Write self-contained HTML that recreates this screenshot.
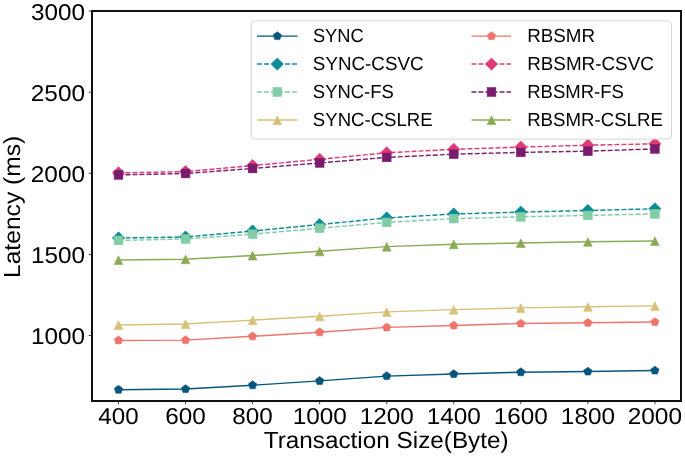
<!DOCTYPE html>
<html><head><meta charset="utf-8"><style>
html,body{margin:0;padding:0;background:#fff;width:685px;height:457px;overflow:hidden}
svg{display:block;will-change:transform}
text{font-family:"Liberation Sans",sans-serif;fill:#000;text-rendering:geometricPrecision}
</style></head><body>
<svg width="685" height="457" viewBox="0 0 685 457">
<rect width="685" height="457" fill="#fff"/>
<polyline points="118.50,389.70 185.55,389.00 252.60,385.20 319.65,380.90 386.70,376.10 453.75,374.00 520.80,372.20 587.85,371.50 654.90,370.50" fill="none" stroke="#05557D" stroke-width="1.45" stroke-linecap="butt" stroke-linejoin="round"/>
<polygon points="118.50,385.35 122.64,388.36 121.06,393.22 115.94,393.22 114.36,388.36" fill="#05557D" stroke="#05557D" stroke-width="0.6" stroke-linejoin="miter"/>
<polygon points="185.55,384.65 189.69,387.66 188.11,392.52 182.99,392.52 181.41,387.66" fill="#05557D" stroke="#05557D" stroke-width="0.6" stroke-linejoin="miter"/>
<polygon points="252.60,380.85 256.74,383.86 255.16,388.72 250.04,388.72 248.46,383.86" fill="#05557D" stroke="#05557D" stroke-width="0.6" stroke-linejoin="miter"/>
<polygon points="319.65,376.55 323.79,379.56 322.21,384.42 317.09,384.42 315.51,379.56" fill="#05557D" stroke="#05557D" stroke-width="0.6" stroke-linejoin="miter"/>
<polygon points="386.70,371.75 390.84,374.76 389.26,379.62 384.14,379.62 382.56,374.76" fill="#05557D" stroke="#05557D" stroke-width="0.6" stroke-linejoin="miter"/>
<polygon points="453.75,369.65 457.89,372.66 456.31,377.52 451.19,377.52 449.61,372.66" fill="#05557D" stroke="#05557D" stroke-width="0.6" stroke-linejoin="miter"/>
<polygon points="520.80,367.85 524.94,370.86 523.36,375.72 518.24,375.72 516.66,370.86" fill="#05557D" stroke="#05557D" stroke-width="0.6" stroke-linejoin="miter"/>
<polygon points="587.85,367.15 591.99,370.16 590.41,375.02 585.29,375.02 583.71,370.16" fill="#05557D" stroke="#05557D" stroke-width="0.6" stroke-linejoin="miter"/>
<polygon points="654.90,366.15 659.04,369.16 657.46,374.02 652.34,374.02 650.76,369.16" fill="#05557D" stroke="#05557D" stroke-width="0.6" stroke-linejoin="miter"/>
<polyline points="118.50,238.00 185.55,237.00 252.60,231.00 319.65,224.60 386.70,217.90 453.75,214.00 520.80,212.10 587.85,210.50 654.90,208.80" fill="none" stroke="#0A8C96" stroke-width="1.45" stroke-dasharray="4.9,2.1" stroke-linecap="butt" stroke-linejoin="round"/>
<polygon points="118.50,231.85 124.65,238.00 118.50,244.15 112.35,238.00" fill="#0A8C96" stroke="#0A8C96" stroke-width="0.6" stroke-linejoin="miter"/>
<polygon points="185.55,230.85 191.70,237.00 185.55,243.15 179.40,237.00" fill="#0A8C96" stroke="#0A8C96" stroke-width="0.6" stroke-linejoin="miter"/>
<polygon points="252.60,224.85 258.75,231.00 252.60,237.15 246.45,231.00" fill="#0A8C96" stroke="#0A8C96" stroke-width="0.6" stroke-linejoin="miter"/>
<polygon points="319.65,218.45 325.80,224.60 319.65,230.75 313.50,224.60" fill="#0A8C96" stroke="#0A8C96" stroke-width="0.6" stroke-linejoin="miter"/>
<polygon points="386.70,211.75 392.85,217.90 386.70,224.05 380.55,217.90" fill="#0A8C96" stroke="#0A8C96" stroke-width="0.6" stroke-linejoin="miter"/>
<polygon points="453.75,207.85 459.90,214.00 453.75,220.15 447.60,214.00" fill="#0A8C96" stroke="#0A8C96" stroke-width="0.6" stroke-linejoin="miter"/>
<polygon points="520.80,205.95 526.95,212.10 520.80,218.25 514.65,212.10" fill="#0A8C96" stroke="#0A8C96" stroke-width="0.6" stroke-linejoin="miter"/>
<polygon points="587.85,204.35 594.00,210.50 587.85,216.65 581.70,210.50" fill="#0A8C96" stroke="#0A8C96" stroke-width="0.6" stroke-linejoin="miter"/>
<polygon points="654.90,202.65 661.05,208.80 654.90,214.95 648.75,208.80" fill="#0A8C96" stroke="#0A8C96" stroke-width="0.6" stroke-linejoin="miter"/>
<polyline points="118.50,240.40 185.55,239.00 252.60,234.20 319.65,228.20 386.70,222.40 453.75,218.60 520.80,216.80 587.85,215.40 654.90,213.90" fill="none" stroke="#82CDA5" stroke-width="1.45" stroke-dasharray="4.9,2.1" stroke-linecap="butt" stroke-linejoin="round"/>
<rect x="114.15" y="236.05" width="8.70" height="8.70" fill="#82CDA5" stroke="#82CDA5" stroke-width="0.6" stroke-linejoin="miter"/>
<rect x="181.20" y="234.65" width="8.70" height="8.70" fill="#82CDA5" stroke="#82CDA5" stroke-width="0.6" stroke-linejoin="miter"/>
<rect x="248.25" y="229.85" width="8.70" height="8.70" fill="#82CDA5" stroke="#82CDA5" stroke-width="0.6" stroke-linejoin="miter"/>
<rect x="315.30" y="223.85" width="8.70" height="8.70" fill="#82CDA5" stroke="#82CDA5" stroke-width="0.6" stroke-linejoin="miter"/>
<rect x="382.35" y="218.05" width="8.70" height="8.70" fill="#82CDA5" stroke="#82CDA5" stroke-width="0.6" stroke-linejoin="miter"/>
<rect x="449.40" y="214.25" width="8.70" height="8.70" fill="#82CDA5" stroke="#82CDA5" stroke-width="0.6" stroke-linejoin="miter"/>
<rect x="516.45" y="212.45" width="8.70" height="8.70" fill="#82CDA5" stroke="#82CDA5" stroke-width="0.6" stroke-linejoin="miter"/>
<rect x="583.50" y="211.05" width="8.70" height="8.70" fill="#82CDA5" stroke="#82CDA5" stroke-width="0.6" stroke-linejoin="miter"/>
<rect x="650.55" y="209.55" width="8.70" height="8.70" fill="#82CDA5" stroke="#82CDA5" stroke-width="0.6" stroke-linejoin="miter"/>
<polyline points="118.50,325.00 185.55,324.00 252.60,320.10 319.65,316.30 386.70,311.90 453.75,309.60 520.80,307.90 587.85,306.80 654.90,305.90" fill="none" stroke="#D7C078" stroke-width="1.45" stroke-linecap="butt" stroke-linejoin="round"/>
<polygon points="118.50,320.85 122.85,329.55 114.15,329.55" fill="#D7C078" stroke="#D7C078" stroke-width="0.6" stroke-linejoin="miter"/>
<polygon points="185.55,319.85 189.90,328.55 181.20,328.55" fill="#D7C078" stroke="#D7C078" stroke-width="0.6" stroke-linejoin="miter"/>
<polygon points="252.60,315.95 256.95,324.65 248.25,324.65" fill="#D7C078" stroke="#D7C078" stroke-width="0.6" stroke-linejoin="miter"/>
<polygon points="319.65,312.15 324.00,320.85 315.30,320.85" fill="#D7C078" stroke="#D7C078" stroke-width="0.6" stroke-linejoin="miter"/>
<polygon points="386.70,307.75 391.05,316.45 382.35,316.45" fill="#D7C078" stroke="#D7C078" stroke-width="0.6" stroke-linejoin="miter"/>
<polygon points="453.75,305.45 458.10,314.15 449.40,314.15" fill="#D7C078" stroke="#D7C078" stroke-width="0.6" stroke-linejoin="miter"/>
<polygon points="520.80,303.75 525.15,312.45 516.45,312.45" fill="#D7C078" stroke="#D7C078" stroke-width="0.6" stroke-linejoin="miter"/>
<polygon points="587.85,302.65 592.20,311.35 583.50,311.35" fill="#D7C078" stroke="#D7C078" stroke-width="0.6" stroke-linejoin="miter"/>
<polygon points="654.90,301.75 659.25,310.45 650.55,310.45" fill="#D7C078" stroke="#D7C078" stroke-width="0.6" stroke-linejoin="miter"/>
<polyline points="118.50,340.40 185.55,340.10 252.60,336.30 319.65,332.20 386.70,327.40 453.75,325.50 520.80,323.50 587.85,322.80 654.90,322.00" fill="none" stroke="#EE746C" stroke-width="1.45" stroke-linecap="butt" stroke-linejoin="round"/>
<polygon points="118.50,336.05 122.64,339.06 121.06,343.92 115.94,343.92 114.36,339.06" fill="#EE746C" stroke="#EE746C" stroke-width="0.6" stroke-linejoin="miter"/>
<polygon points="185.55,335.75 189.69,338.76 188.11,343.62 182.99,343.62 181.41,338.76" fill="#EE746C" stroke="#EE746C" stroke-width="0.6" stroke-linejoin="miter"/>
<polygon points="252.60,331.95 256.74,334.96 255.16,339.82 250.04,339.82 248.46,334.96" fill="#EE746C" stroke="#EE746C" stroke-width="0.6" stroke-linejoin="miter"/>
<polygon points="319.65,327.85 323.79,330.86 322.21,335.72 317.09,335.72 315.51,330.86" fill="#EE746C" stroke="#EE746C" stroke-width="0.6" stroke-linejoin="miter"/>
<polygon points="386.70,323.05 390.84,326.06 389.26,330.92 384.14,330.92 382.56,326.06" fill="#EE746C" stroke="#EE746C" stroke-width="0.6" stroke-linejoin="miter"/>
<polygon points="453.75,321.15 457.89,324.16 456.31,329.02 451.19,329.02 449.61,324.16" fill="#EE746C" stroke="#EE746C" stroke-width="0.6" stroke-linejoin="miter"/>
<polygon points="520.80,319.15 524.94,322.16 523.36,327.02 518.24,327.02 516.66,322.16" fill="#EE746C" stroke="#EE746C" stroke-width="0.6" stroke-linejoin="miter"/>
<polygon points="587.85,318.45 591.99,321.46 590.41,326.32 585.29,326.32 583.71,321.46" fill="#EE746C" stroke="#EE746C" stroke-width="0.6" stroke-linejoin="miter"/>
<polygon points="654.90,317.65 659.04,320.66 657.46,325.52 652.34,325.52 650.76,320.66" fill="#EE746C" stroke="#EE746C" stroke-width="0.6" stroke-linejoin="miter"/>
<polyline points="118.50,172.90 185.55,171.60 252.60,165.60 319.65,159.30 386.70,152.80 453.75,149.30 520.80,147.10 587.85,145.20 654.90,143.80" fill="none" stroke="#DE3A76" stroke-width="1.45" stroke-dasharray="4.9,2.1" stroke-linecap="butt" stroke-linejoin="round"/>
<polygon points="118.50,166.75 124.65,172.90 118.50,179.05 112.35,172.90" fill="#DE3A76" stroke="#DE3A76" stroke-width="0.6" stroke-linejoin="miter"/>
<polygon points="185.55,165.45 191.70,171.60 185.55,177.75 179.40,171.60" fill="#DE3A76" stroke="#DE3A76" stroke-width="0.6" stroke-linejoin="miter"/>
<polygon points="252.60,159.45 258.75,165.60 252.60,171.75 246.45,165.60" fill="#DE3A76" stroke="#DE3A76" stroke-width="0.6" stroke-linejoin="miter"/>
<polygon points="319.65,153.15 325.80,159.30 319.65,165.45 313.50,159.30" fill="#DE3A76" stroke="#DE3A76" stroke-width="0.6" stroke-linejoin="miter"/>
<polygon points="386.70,146.65 392.85,152.80 386.70,158.95 380.55,152.80" fill="#DE3A76" stroke="#DE3A76" stroke-width="0.6" stroke-linejoin="miter"/>
<polygon points="453.75,143.15 459.90,149.30 453.75,155.45 447.60,149.30" fill="#DE3A76" stroke="#DE3A76" stroke-width="0.6" stroke-linejoin="miter"/>
<polygon points="520.80,140.95 526.95,147.10 520.80,153.25 514.65,147.10" fill="#DE3A76" stroke="#DE3A76" stroke-width="0.6" stroke-linejoin="miter"/>
<polygon points="587.85,139.05 594.00,145.20 587.85,151.35 581.70,145.20" fill="#DE3A76" stroke="#DE3A76" stroke-width="0.6" stroke-linejoin="miter"/>
<polygon points="654.90,137.65 661.05,143.80 654.90,149.95 648.75,143.80" fill="#DE3A76" stroke="#DE3A76" stroke-width="0.6" stroke-linejoin="miter"/>
<polyline points="118.50,174.90 185.55,173.50 252.60,168.50 319.65,162.90 386.70,157.40 453.75,154.20 520.80,152.40 587.85,151.20 654.90,148.90" fill="none" stroke="#7A1C6E" stroke-width="1.45" stroke-dasharray="4.9,2.1" stroke-linecap="butt" stroke-linejoin="round"/>
<rect x="114.15" y="170.55" width="8.70" height="8.70" fill="#7A1C6E" stroke="#7A1C6E" stroke-width="0.6" stroke-linejoin="miter"/>
<rect x="181.20" y="169.15" width="8.70" height="8.70" fill="#7A1C6E" stroke="#7A1C6E" stroke-width="0.6" stroke-linejoin="miter"/>
<rect x="248.25" y="164.15" width="8.70" height="8.70" fill="#7A1C6E" stroke="#7A1C6E" stroke-width="0.6" stroke-linejoin="miter"/>
<rect x="315.30" y="158.55" width="8.70" height="8.70" fill="#7A1C6E" stroke="#7A1C6E" stroke-width="0.6" stroke-linejoin="miter"/>
<rect x="382.35" y="153.05" width="8.70" height="8.70" fill="#7A1C6E" stroke="#7A1C6E" stroke-width="0.6" stroke-linejoin="miter"/>
<rect x="449.40" y="149.85" width="8.70" height="8.70" fill="#7A1C6E" stroke="#7A1C6E" stroke-width="0.6" stroke-linejoin="miter"/>
<rect x="516.45" y="148.05" width="8.70" height="8.70" fill="#7A1C6E" stroke="#7A1C6E" stroke-width="0.6" stroke-linejoin="miter"/>
<rect x="583.50" y="146.85" width="8.70" height="8.70" fill="#7A1C6E" stroke="#7A1C6E" stroke-width="0.6" stroke-linejoin="miter"/>
<rect x="650.55" y="144.55" width="8.70" height="8.70" fill="#7A1C6E" stroke="#7A1C6E" stroke-width="0.6" stroke-linejoin="miter"/>
<polyline points="118.50,260.00 185.55,259.20 252.60,255.50 319.65,251.30 386.70,246.60 453.75,244.20 520.80,243.00 587.85,241.70 654.90,241.00" fill="none" stroke="#8AAA55" stroke-width="1.45" stroke-linecap="butt" stroke-linejoin="round"/>
<polygon points="118.50,255.85 122.85,264.55 114.15,264.55" fill="#8AAA55" stroke="#8AAA55" stroke-width="0.6" stroke-linejoin="miter"/>
<polygon points="185.55,255.05 189.90,263.75 181.20,263.75" fill="#8AAA55" stroke="#8AAA55" stroke-width="0.6" stroke-linejoin="miter"/>
<polygon points="252.60,251.35 256.95,260.05 248.25,260.05" fill="#8AAA55" stroke="#8AAA55" stroke-width="0.6" stroke-linejoin="miter"/>
<polygon points="319.65,247.15 324.00,255.85 315.30,255.85" fill="#8AAA55" stroke="#8AAA55" stroke-width="0.6" stroke-linejoin="miter"/>
<polygon points="386.70,242.45 391.05,251.15 382.35,251.15" fill="#8AAA55" stroke="#8AAA55" stroke-width="0.6" stroke-linejoin="miter"/>
<polygon points="453.75,240.05 458.10,248.75 449.40,248.75" fill="#8AAA55" stroke="#8AAA55" stroke-width="0.6" stroke-linejoin="miter"/>
<polygon points="520.80,238.85 525.15,247.55 516.45,247.55" fill="#8AAA55" stroke="#8AAA55" stroke-width="0.6" stroke-linejoin="miter"/>
<polygon points="587.85,237.55 592.20,246.25 583.50,246.25" fill="#8AAA55" stroke="#8AAA55" stroke-width="0.6" stroke-linejoin="miter"/>
<polygon points="654.90,236.85 659.25,245.55 650.55,245.55" fill="#8AAA55" stroke="#8AAA55" stroke-width="0.6" stroke-linejoin="miter"/>
<line x1="118.50" y1="401" x2="118.50" y2="404.3" stroke="#000" stroke-width="0.75"/>
<line x1="185.55" y1="401" x2="185.55" y2="404.3" stroke="#000" stroke-width="0.75"/>
<line x1="252.60" y1="401" x2="252.60" y2="404.3" stroke="#000" stroke-width="0.75"/>
<line x1="319.65" y1="401" x2="319.65" y2="404.3" stroke="#000" stroke-width="0.75"/>
<line x1="386.70" y1="401" x2="386.70" y2="404.3" stroke="#000" stroke-width="0.75"/>
<line x1="453.75" y1="401" x2="453.75" y2="404.3" stroke="#000" stroke-width="0.75"/>
<line x1="520.80" y1="401" x2="520.80" y2="404.3" stroke="#000" stroke-width="0.75"/>
<line x1="587.85" y1="401" x2="587.85" y2="404.3" stroke="#000" stroke-width="0.75"/>
<line x1="654.90" y1="401" x2="654.90" y2="404.3" stroke="#000" stroke-width="0.75"/>
<line x1="88.7" y1="335.5" x2="92" y2="335.5" stroke="#000" stroke-width="0.75"/>
<line x1="88.7" y1="254.4" x2="92" y2="254.4" stroke="#000" stroke-width="0.75"/>
<line x1="88.7" y1="173.25" x2="92" y2="173.25" stroke="#000" stroke-width="0.75"/>
<line x1="88.7" y1="92.1" x2="92" y2="92.1" stroke="#000" stroke-width="0.75"/>
<line x1="88.7" y1="11" x2="92" y2="11" stroke="#000" stroke-width="0.75"/>
<rect x="92" y="11" width="589" height="390" fill="none" stroke="#111" stroke-width="2.0"/>
<text x="98.38" y="424.40" font-size="23.07" textLength="40.28" lengthAdjust="spacingAndGlyphs">400</text>
<text x="165.19" y="424.40" font-size="23.07" textLength="40.52" lengthAdjust="spacingAndGlyphs">600</text>
<text x="232.37" y="424.40" font-size="23.07" textLength="40.39" lengthAdjust="spacingAndGlyphs">800</text>
<text x="292.66" y="424.40" font-size="23.07" textLength="54.10" lengthAdjust="spacingAndGlyphs">1000</text>
<text x="359.71" y="424.40" font-size="23.07" textLength="54.10" lengthAdjust="spacingAndGlyphs">1200</text>
<text x="426.76" y="424.40" font-size="23.07" textLength="54.10" lengthAdjust="spacingAndGlyphs">1400</text>
<text x="493.81" y="424.40" font-size="23.07" textLength="54.10" lengthAdjust="spacingAndGlyphs">1600</text>
<text x="560.86" y="424.40" font-size="23.07" textLength="54.10" lengthAdjust="spacingAndGlyphs">1800</text>
<text x="627.70" y="424.40" font-size="23.07" textLength="54.31" lengthAdjust="spacingAndGlyphs">2000</text>
<text x="30.97" y="344.10" font-size="22.92" textLength="54.10" lengthAdjust="spacingAndGlyphs">1000</text>
<text x="30.97" y="263.00" font-size="22.92" textLength="54.10" lengthAdjust="spacingAndGlyphs">1500</text>
<text x="30.76" y="181.85" font-size="22.92" textLength="54.31" lengthAdjust="spacingAndGlyphs">2000</text>
<text x="30.76" y="100.70" font-size="22.92" textLength="54.31" lengthAdjust="spacingAndGlyphs">2500</text>
<text x="31.12" y="19.60" font-size="22.92" textLength="53.94" lengthAdjust="spacingAndGlyphs">3000</text>
<text x="263.75" y="448.40" font-size="23.26" textLength="244.87" lengthAdjust="spacingAndGlyphs">Transaction Size(Byte)</text>
<g transform="rotate(-90)"><text x="-278.03" y="20.30" font-size="23.26" textLength="142.25" lengthAdjust="spacingAndGlyphs">Latency (ms)</text></g>
<rect x="251.1" y="20.9" width="420.4" height="118.19999999999999" rx="3.6" ry="3.6" fill="#fff" fill-opacity="0.8" stroke="#d6d6d6" stroke-width="1"/>
<polyline points="257.00,36.10 297.50,36.10" fill="none" stroke="#05557D" stroke-width="1.45" stroke-linecap="butt" stroke-linejoin="round"/>
<polygon points="277.30,31.75 281.44,34.76 279.86,39.62 274.74,39.62 273.16,34.76" fill="#05557D" stroke="#05557D" stroke-width="0.6" stroke-linejoin="miter"/>
<text x="312.88" y="42.25" font-size="18.97" textLength="50.87" lengthAdjust="spacingAndGlyphs">SYNC</text>
<polyline points="257.00,64.05 297.50,64.05" fill="none" stroke="#0A8C96" stroke-width="1.45" stroke-dasharray="4.9,2.1" stroke-linecap="butt" stroke-linejoin="round"/>
<polygon points="277.30,57.90 283.45,64.05 277.30,70.20 271.15,64.05" fill="#0A8C96" stroke="#0A8C96" stroke-width="0.6" stroke-linejoin="miter"/>
<text x="312.85" y="70.08" font-size="18.97" textLength="110.69" lengthAdjust="spacingAndGlyphs">SYNC-CSVC</text>
<polyline points="257.00,92.00 297.50,92.00" fill="none" stroke="#82CDA5" stroke-width="1.45" stroke-dasharray="4.9,2.1" stroke-linecap="butt" stroke-linejoin="round"/>
<rect x="272.95" y="87.65" width="8.70" height="8.70" fill="#82CDA5" stroke="#82CDA5" stroke-width="0.6" stroke-linejoin="miter"/>
<text x="312.87" y="97.91" font-size="18.97" textLength="80.89" lengthAdjust="spacingAndGlyphs">SYNC-FS</text>
<polyline points="257.00,119.95 297.50,119.95" fill="none" stroke="#D7C078" stroke-width="1.45" stroke-linecap="butt" stroke-linejoin="round"/>
<polygon points="277.30,115.80 281.65,124.50 272.95,124.50" fill="#D7C078" stroke="#D7C078" stroke-width="0.6" stroke-linejoin="miter"/>
<text x="312.86" y="125.74" font-size="18.97" textLength="119.80" lengthAdjust="spacingAndGlyphs">SYNC-CSLRE</text>
<polyline points="471.50,36.10 511.00,36.10" fill="none" stroke="#EE746C" stroke-width="1.45" stroke-linecap="butt" stroke-linejoin="round"/>
<polygon points="491.50,31.75 495.64,34.76 494.06,39.62 488.94,39.62 487.36,34.76" fill="#EE746C" stroke="#EE746C" stroke-width="0.6" stroke-linejoin="miter"/>
<text x="527.15" y="42.25" font-size="18.97" textLength="67.82" lengthAdjust="spacingAndGlyphs">RBSMR</text>
<polyline points="471.50,64.05 511.00,64.05" fill="none" stroke="#DE3A76" stroke-width="1.45" stroke-dasharray="4.9,2.1" stroke-linecap="butt" stroke-linejoin="round"/>
<polygon points="491.50,57.90 497.65,64.05 491.50,70.20 485.35,64.05" fill="#DE3A76" stroke="#DE3A76" stroke-width="0.6" stroke-linejoin="miter"/>
<text x="527.15" y="70.08" font-size="18.97" textLength="126.71" lengthAdjust="spacingAndGlyphs">RBSMR-CSVC</text>
<polyline points="471.50,92.00 511.00,92.00" fill="none" stroke="#7A1C6E" stroke-width="1.45" stroke-dasharray="4.9,2.1" stroke-linecap="butt" stroke-linejoin="round"/>
<rect x="487.15" y="87.65" width="8.70" height="8.70" fill="#7A1C6E" stroke="#7A1C6E" stroke-width="0.6" stroke-linejoin="miter"/>
<text x="527.17" y="97.91" font-size="18.97" textLength="96.70" lengthAdjust="spacingAndGlyphs">RBSMR-FS</text>
<polyline points="471.50,119.95 511.00,119.95" fill="none" stroke="#8AAA55" stroke-width="1.45" stroke-linecap="butt" stroke-linejoin="round"/>
<polygon points="491.50,115.80 495.85,124.50 487.15,124.50" fill="#8AAA55" stroke="#8AAA55" stroke-width="0.6" stroke-linejoin="miter"/>
<text x="527.16" y="125.74" font-size="18.97" textLength="135.71" lengthAdjust="spacingAndGlyphs">RBSMR-CSLRE</text>
</svg>
</body></html>
